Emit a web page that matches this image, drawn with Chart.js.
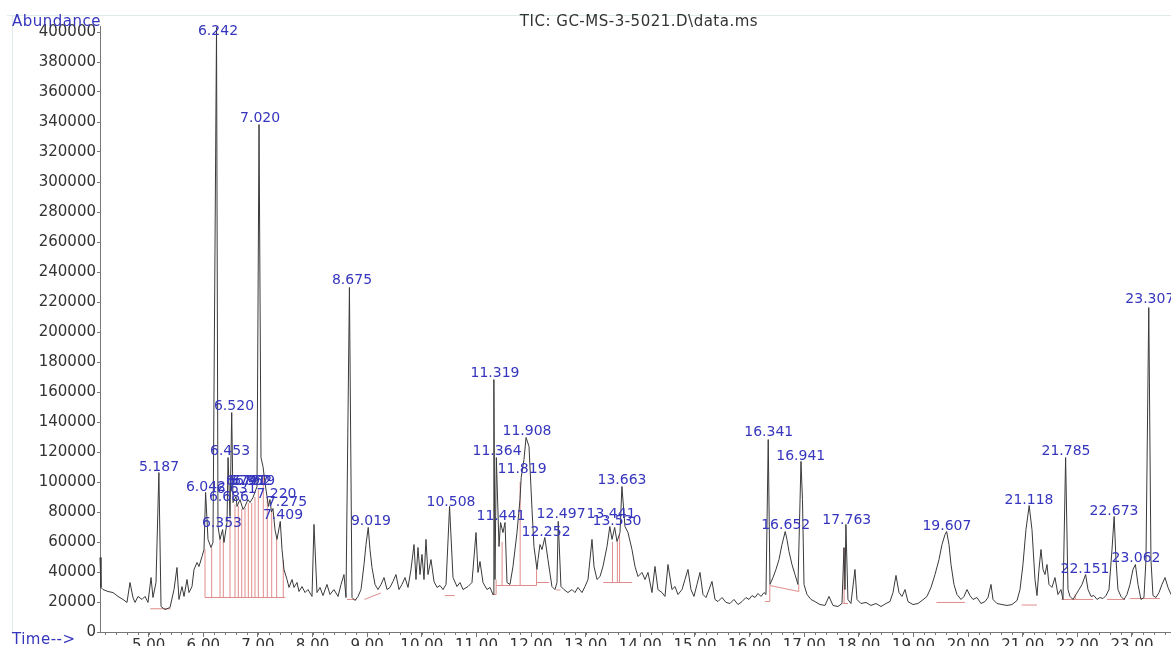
<!DOCTYPE html>
<html>
<head>
<meta charset="utf-8">
<script src="https://cdn.jsdelivr.net/npm/chart.js@4.4.1/dist/chart.umd.min.js"></script>
<style>
  html, body { margin: 0; padding: 0; background: #fff; }
  #chart { display: block; }
</style>
</head>
<body>
<canvas id="chart" width="1171" height="646"></canvas>
<script>
// TIC trace, [retention time (min), abundance]
const ticTrace = [
  [4.109, 49700], [4.127, 29700], [4.164, 28300], [4.255, 27000], [4.347, 26300], [4.438, 23700],
  [4.530, 21700], [4.603, 19700], [4.658, 33000], [4.713, 23000], [4.750, 19700], [4.805, 23700],
  [4.878, 21700], [4.933, 23700], [4.988, 19700], [5.043, 36300], [5.079, 23000], [5.134, 33000],
  [5.187, 106300], [5.226, 17000], [5.299, 15000], [5.390, 16300], [5.464, 28300], [5.518, 43000],
  [5.555, 21700], [5.610, 30300], [5.647, 23700], [5.702, 35000], [5.738, 26300], [5.793, 30300],
  [5.830, 41700], [5.885, 46300], [5.921, 43700], [5.976, 50300], [6.013, 55000], [6.042, 93000],
  [6.086, 61700], [6.141, 56300], [6.177, 59700], [6.242, 403000], [6.269, 70300], [6.306, 61700],
  [6.353, 68300], [6.379, 59700], [6.434, 73000], [6.453, 116300], [6.489, 77000], [6.520, 146300],
  [6.544, 86300], [6.599, 90300], [6.617, 83700], [6.672, 88300], [6.727, 81700], [6.763, 83700],
  [6.818, 88300], [6.855, 86300], [6.910, 89700], [6.983, 97000], [7.020, 338300], [7.056, 116300],
  [7.093, 110300], [7.129, 99700], [7.166, 90300], [7.193, 83700], [7.220, 88300], [7.248, 80000],
  [7.275, 82300], [7.312, 68300], [7.349, 61700], [7.409, 73700], [7.441, 55000], [7.477, 41700],
  [7.532, 35000], [7.569, 29700], [7.624, 35000], [7.660, 29700], [7.715, 33000], [7.752, 27000],
  [7.807, 30300], [7.862, 26300], [7.916, 28300], [7.990, 23700], [8.026, 71700], [8.081, 26300],
  [8.136, 29700], [8.191, 24300], [8.264, 31700], [8.319, 25000], [8.392, 28300], [8.466, 23700],
  [8.521, 31700], [8.575, 38300], [8.612, 23000], [8.675, 229700], [8.722, 23000], [8.777, 21000],
  [8.832, 23700], [8.887, 28300], [8.942, 45000], [8.978, 58300], [9.019, 69700], [9.051, 55000],
  [9.088, 43000], [9.143, 31700], [9.198, 28300], [9.253, 31700], [9.308, 36300], [9.363, 28300],
  [9.417, 29700], [9.472, 33700], [9.527, 38300], [9.582, 28300], [9.637, 31700], [9.692, 36300],
  [9.747, 29700], [9.802, 41700], [9.857, 58300], [9.893, 35000], [9.930, 56300], [9.967, 38300],
  [10.003, 51700], [10.040, 35000], [10.076, 61700], [10.113, 38300], [10.168, 48300], [10.223, 33700],
  [10.278, 29700], [10.333, 31000], [10.388, 28300], [10.443, 31700], [10.508, 83700], [10.571, 36300],
  [10.644, 30300], [10.699, 33000], [10.754, 28300], [10.845, 30300], [10.918, 33000], [10.992, 66300],
  [11.028, 39700], [11.065, 47000], [11.120, 33000], [11.193, 28300], [11.248, 29700], [11.303, 25000],
  [11.319, 168300], [11.339, 35000], [11.364, 116300], [11.413, 57000], [11.441, 73000], [11.486, 66300],
  [11.523, 73000], [11.559, 33000], [11.614, 31700], [11.669, 43700], [11.742, 66300], [11.797, 88300],
  [11.819, 103000], [11.870, 115000], [11.908, 129700], [11.962, 123700], [12.017, 81700], [12.053, 57000],
  [12.108, 41700], [12.127, 48300], [12.163, 58300], [12.200, 55000], [12.252, 63000], [12.309, 48300],
  [12.382, 30300], [12.437, 28300], [12.474, 33000], [12.497, 73700], [12.547, 30300], [12.602, 28300],
  [12.675, 26300], [12.749, 28300], [12.804, 26300], [12.858, 29700], [12.932, 26300], [12.987, 30300],
  [13.042, 35000], [13.115, 61700], [13.152, 43700], [13.207, 35000], [13.262, 37000], [13.316, 43700],
  [13.390, 57000], [13.441, 70300], [13.482, 61700], [13.530, 69700], [13.573, 60300], [13.628, 66300],
  [13.663, 97000], [13.719, 70300], [13.774, 66300], [13.847, 55000], [13.902, 43700], [13.957, 37000],
  [14.030, 39700], [14.085, 35000], [14.140, 39700], [14.213, 26300], [14.268, 43700], [14.323, 28300],
  [14.396, 26300], [14.451, 23700], [14.506, 45000], [14.579, 28300], [14.634, 30300], [14.689, 25000],
  [14.763, 28300], [14.817, 35000], [14.872, 41700], [14.927, 28300], [14.982, 23700], [15.037, 31700],
  [15.092, 39700], [15.147, 25000], [15.202, 23000], [15.257, 28300], [15.312, 33700], [15.367, 21700],
  [15.421, 20300], [15.495, 23000], [15.568, 19700], [15.641, 19000], [15.714, 21700], [15.788, 18300],
  [15.861, 20300], [15.934, 23000], [15.989, 21700], [16.044, 24300], [16.099, 23000], [16.154, 25700],
  [16.209, 23700], [16.264, 26300], [16.300, 25000], [16.341, 128300], [16.373, 31700], [16.428, 36300],
  [16.483, 41700], [16.538, 48300], [16.593, 58300], [16.652, 67000], [16.684, 61700], [16.721, 53700],
  [16.776, 45000], [16.831, 38300], [16.886, 31700], [16.941, 113700], [16.968, 88300], [16.996, 31700],
  [17.051, 25000], [17.124, 21700], [17.197, 20300], [17.289, 18300], [17.380, 17700], [17.453, 23700],
  [17.527, 17700], [17.618, 17000], [17.691, 19000], [17.728, 56300], [17.746, 28300], [17.763, 71700],
  [17.800, 21700], [17.855, 19000], [17.929, 41700], [17.966, 21700], [18.039, 19000], [18.131, 19700],
  [18.222, 17700], [18.314, 19000], [18.405, 17000], [18.497, 19000], [18.570, 20300], [18.625, 26300],
  [18.680, 37700], [18.735, 26300], [18.790, 23700], [18.845, 28300], [18.899, 20300], [18.991, 18300],
  [19.082, 19000], [19.156, 21000], [19.247, 23700], [19.321, 29700], [19.394, 38300], [19.467, 48300],
  [19.522, 58300], [19.577, 65000], [19.607, 67000], [19.650, 58300], [19.687, 45000], [19.741, 31700],
  [19.796, 25000], [19.870, 21700], [19.925, 23700], [19.980, 28300], [20.034, 24300], [20.089, 21700],
  [20.162, 23000], [20.236, 19000], [20.309, 20300], [20.364, 23000], [20.419, 31700], [20.456, 21700],
  [20.529, 19000], [20.620, 18300], [20.712, 17700], [20.803, 18300], [20.895, 21000], [20.950, 28300],
  [21.004, 45000], [21.059, 68300], [21.118, 84300], [21.169, 68300], [21.224, 35000], [21.261, 24300],
  [21.297, 41700], [21.334, 55000], [21.371, 41700], [21.407, 38300], [21.444, 45000], [21.480, 31700],
  [21.535, 29700], [21.590, 36300], [21.645, 25000], [21.700, 28300], [21.737, 21700], [21.785, 116300],
  [21.828, 28300], [21.865, 23700], [21.920, 21700], [21.975, 25000], [22.030, 28300], [22.085, 31700],
  [22.151, 38300], [22.195, 28300], [22.250, 23700], [22.304, 24300], [22.359, 21700], [22.414, 23000],
  [22.469, 22300], [22.524, 24300], [22.579, 28300], [22.634, 55000], [22.673, 77000], [22.707, 48300],
  [22.743, 28300], [22.798, 23700], [22.853, 21700], [22.908, 25000], [22.963, 31700], [23.018, 41700],
  [23.062, 45000], [23.110, 31700], [23.164, 21700], [23.219, 23000], [23.256, 48300], [23.307, 216300],
  [23.347, 48300], [23.384, 24300], [23.439, 23000], [23.494, 26300], [23.549, 31700], [23.604, 36300],
  [23.659, 29700], [23.714, 25000]
];

// integration baselines: [t start, abundance start, t end, abundance end]
const baselines = [
  [5.03, 15500, 5.40, 15500],
  [6.03, 23000, 7.50, 23000],
  [8.63, 21700, 8.80, 21700],
  [8.95, 21700, 9.25, 26000],
  [10.42, 24300, 10.60, 24300],
  [11.29, 25000, 11.36, 25000],
  [11.36, 31000, 12.10, 31000],
  [12.10, 33000, 12.33, 33000],
  [12.46, 28000, 12.54, 28000],
  [13.32, 33000, 13.85, 33000],
  [16.28, 20300, 16.37, 20300],
  [16.37, 31000, 16.90, 27000],
  [17.71, 19000, 17.80, 19000],
  [19.42, 19700, 19.94, 19700],
  [20.98, 18000, 21.26, 18000],
  [21.71, 21700, 22.29, 21700],
  [22.54, 21700, 22.87, 21700],
  [22.96, 22300, 23.51, 22300]
];

// peak boundary drop lines: [t, abundance bottom, abundance top]
const dropLines = [
  [6.031, 23000, 55000], [6.153, 23000, 56000], [6.306, 23000, 61700], [6.366, 23000, 62000],
  [6.489, 23000, 75000], [6.580, 23000, 85000], [6.641, 23000, 84000], [6.703, 23000, 82000],
  [6.763, 23000, 83000], [6.824, 23000, 86000], [6.886, 23000, 86000], [6.946, 23000, 90000],
  [7.007, 23000, 95000], [7.098, 23000, 105000], [7.171, 23000, 90000], [7.252, 23000, 80000],
  [7.343, 23000, 62000], [7.464, 23000, 48000],
  [11.36, 25000, 35000], [11.47, 31000, 60000], [11.80, 31000, 100000], [12.10, 31000, 41700],
  [13.49, 33000, 60000], [13.58, 33000, 60000], [13.62, 33000, 65000],
  [16.37, 20300, 31000], [16.90, 27000, 31700], [17.73, 19000, 56000],
  [21.96, 21700, 25000], [23.22, 22300, 23000]
];

// peak labels: text, centre time, centre abundance
const peakNames = ['5.187', '6.042', '6.242', '6.353', '6.453', '6.520', '6.686', '6.631',
  '6.741', '6.797', '6.852', '6.919', '7.020', '7.409', '7.220', '7.275', '8.675', '9.019',
  '10.508', '11.319', '11.364', '11.441', '11.908', '11.819', '12.252', '12.497', '13.441',
  '13.530', '13.663', '16.341', '16.941', '16.652', '17.763', '19.607', '21.118', '21.785',
  '22.151', '22.673', '23.062', '23.307'];
const peakLabelTimes = [5.189, 6.049, 6.269, 6.342, 6.489, 6.562, 6.470, 6.608,
  6.782, 6.837, 6.892, 6.947, 7.039, 7.459, 7.339, 7.532, 8.722, 9.069,
  10.534, 11.340, 11.377, 11.449, 11.926, 11.835, 12.274, 12.549, 13.464,
  13.573, 13.665, 16.350, 16.936, 16.661, 17.778, 19.612, 21.115, 21.792,
  22.140, 22.671, 23.073, 23.326];
const peakLabelAbund = [109700, 96300, 400300, 72300, 120300, 150300, 89700, 95000,
  100300, 100300, 100300, 100300, 342300, 77700, 91700, 86300, 234300, 73700,
  86300, 172300, 120300, 77000, 133700, 108300, 66300, 78300, 78300,
  73700, 101000, 133000, 117000, 71000, 74300, 70300, 87700, 120300,
  41700, 80300, 49000, 221700];

const xTickLabels = [5, 6, 7, 8, 9, 10, 11, 12, 13, 14, 15, 16, 17, 18, 19, 20, 21, 22, 23];
const yTickLabels = [0, 20000, 40000, 60000, 80000, 100000, 120000, 140000, 160000, 180000, 200000,
  220000, 240000, 260000, 280000, 300000, 320000, 340000, 360000, 380000, 400000];

const timeMin = 4.109;
const timeMax = 23.714;
const blue = '#3535bd';
const fontName = '"DejaVu Sans", sans-serif';

// red integration marks as one broken line
const integrationPoints = [];
baselines.forEach(b => {
  integrationPoints.push({ x: b[0], y: b[1] }, { x: b[2], y: b[3] }, { x: b[2], y: null });
});
dropLines.forEach(d => {
  integrationPoints.push({ x: d[0], y: d[1] }, { x: d[0], y: d[2] }, { x: d[0], y: null });
});

const decorPlugin = {
  id: 'decor',
  beforeDraw(chart) {
    const ctx = chart.ctx;
    ctx.save();
    ctx.fillStyle = '#fff';
    ctx.fillRect(0, 0, chart.width, chart.height);
    // faint frame
    ctx.strokeStyle = '#dfece7';
    ctx.lineWidth = 1;
    ctx.beginPath();
    ctx.moveTo(7, 15.5);
    ctx.lineTo(chart.width, 15.5);
    ctx.moveTo(12.5, 15);
    ctx.lineTo(12.5, 634);
    ctx.stroke();
    ctx.restore();
  },
  afterDraw(chart) {
    const ctx = chart.ctx;
    const xs = chart.scales.x;
    const ys = chart.scales.y;
    const area = chart.chartArea;
    ctx.save();
    // minor time ticks every 0.2 min
    ctx.strokeStyle = '#777';
    ctx.lineWidth = 1;
    ctx.beginPath();
    for (let i = 21; i <= 118; i++) {
      const px = Math.round(xs.getPixelForValue(i / 5)) + 0.5;
      ctx.moveTo(px, area.bottom);
      ctx.lineTo(px, area.bottom + 3);
    }
    ctx.stroke();

    // peak labels
    ctx.font = '14px ' + fontName;
    ctx.fillStyle = blue;
    ctx.textAlign = 'center';
    ctx.textBaseline = 'middle';
    peakNames.forEach((name, i) => {
      ctx.fillText(name, xs.getPixelForValue(peakLabelTimes[i]), ys.getPixelForValue(peakLabelAbund[i]));
    });

    // axis captions and title
    ctx.font = '15px ' + fontName;
    ctx.textAlign = 'left';
    ctx.letterSpacing = '0.5px';
    ctx.fillText('Abundance', 12, 22);
    ctx.fillText('Time-->', 12, 640);
    ctx.fillStyle = '#333';
    ctx.textAlign = 'center';
    ctx.fillText('TIC: GC-MS-3-5021.D\\data.ms', 639, 22);
    ctx.restore();
  }
};

new Chart(document.getElementById('chart'), {
  type: 'line',
  data: {
    datasets: [
      {
        data: ticTrace.map(p => ({ x: p[0], y: p[1] })),
        borderColor: '#3a3a3a',
        borderWidth: 1,
        pointRadius: 0,
        tension: 0,
        clip: false,
        order: 0
      },
      {
        data: integrationPoints,
        borderColor: '#e08c8c',
        borderWidth: 1,
        pointRadius: 0,
        tension: 0,
        spanGaps: false,
        order: 1
      }
    ]
  },
  options: {
    responsive: false,
    animation: false,
    devicePixelRatio: 1,
    layout: { padding: { left: 0, top: 26, right: 0, bottom: 0 } },
    plugins: { legend: { display: false }, tooltip: { enabled: false } },
    scales: {
      x: {
        type: 'linear',
        min: timeMin,
        max: timeMax,
        afterBuildTicks: scale => { scale.ticks = xTickLabels.map(v => ({ value: v })); },
        afterFit: scale => { scale.height = 14; },
        border: { display: true, color: '#777', width: 1 },
        grid: { drawOnChartArea: false, tickLength: 5, color: '#777' },
        ticks: {
          autoSkip: false,
          maxRotation: 0,
          padding: 0,
          color: '#333',
          font: { family: fontName, size: 15 },
          callback: v => Number(v).toFixed(2)
        }
      },
      y: {
        min: 0,
        max: 404000,
        afterBuildTicks: scale => { scale.ticks = yTickLabels.map(v => ({ value: v })); },
        afterFit: scale => { scale.width = 100; },
        border: { display: true, color: '#777', width: 1 },
        grid: { drawOnChartArea: false, tickLength: 3, color: '#777' },
        ticks: {
          padding: 1,
          color: '#333',
          font: { family: fontName, size: 15 },
          callback: v => String(v)
        }
      }
    }
  },
  plugins: [decorPlugin]
});
</script>
</body>
</html>
